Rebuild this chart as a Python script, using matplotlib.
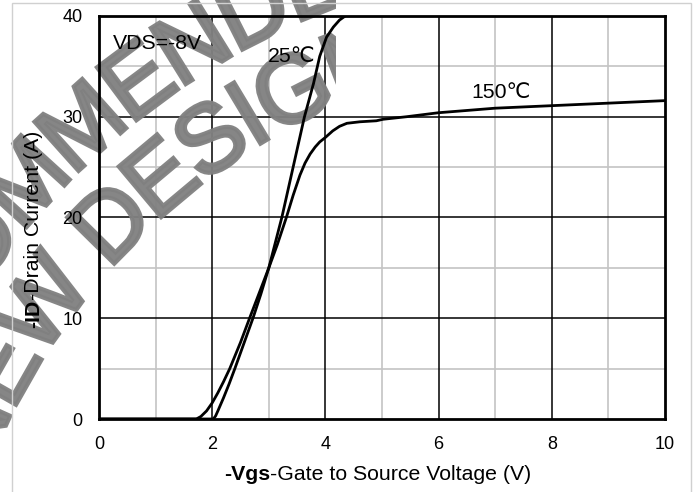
import matplotlib
matplotlib.use("Agg")
import math
import numpy as np
import matplotlib.pyplot as plt
from matplotlib.transforms import IdentityTransform, Affine2D
from matplotlib.patches import Rectangle, PathPatch
from matplotlib.textpath import TextPath
from matplotlib.font_manager import FontProperties

# ---------------- data ----------------
vgs_25 = [0.0, 1.0, 2.02, 2.06, 2.1, 2.2, 2.3, 2.4, 2.56, 2.72, 2.86, 3.0, 3.23, 3.43,
          3.63, 3.79, 3.9, 4.02, 4.14, 4.25, 4.35]
id_25 = [0.0, 0.0, 0.0, 0.3, 0.8, 2.1, 3.5, 5.0, 7.5, 10.0, 12.4, 15.0, 20.0, 25.0,
         30.0, 33.3, 36.0, 37.9, 38.9, 39.6, 40.0]

vgs_150 = [0.0, 1.0, 1.72, 1.8, 1.9, 2.0, 2.1, 2.2, 2.31, 2.5, 2.66, 2.83, 3.0, 3.15,
           3.31, 3.43, 3.55, 3.64, 3.73, 3.82, 3.9, 4.0, 4.13, 4.25, 4.38, 4.61, 4.9,
           5.02, 5.43, 6.0, 6.38, 7.0, 8.0, 9.0, 10.0]
id_150 = [0.0, 0.0, 0.0, 0.25, 0.8, 1.6, 2.6, 3.7, 5.0, 7.6, 10.0, 12.5, 15.0, 17.3,
          20.0, 22.2, 24.2, 25.4, 26.3, 27.0, 27.5, 27.95, 28.6, 29.05, 29.35, 29.5, 29.6,
          29.75, 30.0, 30.4, 30.57, 30.85, 31.1, 31.35, 31.6]

x_ticks = [0, 2, 4, 6, 8, 10]
y_ticks = [0, 10, 20, 30, 40]
x_minor = [1, 3, 5, 7, 9]
y_minor = [5, 15, 25, 35]

xlabel_bold = "-Vgs"
xlabel_rest = "-Gate to Source Voltage (V)"
ylabel_bold = "-ID"
ylabel_rest = "-Drain Current (A)"
cond_text = "VDS=-8V"
label_25 = "25\u2103"
label_150 = "150\u2103"
watermark_1 = "NOT RECOMMENDED"
watermark_2 = "FOR NEW DESIGN"

# ---------------- figure ----------------
W, H = 698, 492
plt.rcParams['font.family'] = ['Liberation Sans', 'DejaVu Sans']
fig = plt.figure(figsize=(W / 100, H / 100), dpi=100)
fig.patch.set_facecolor('white')

# outer light frame
fig.add_artist(Rectangle((12 / W, -0.02), 679 / W, 1.02 - 3 / H,
                         transform=fig.transFigure, fill=False,
                         edgecolor='#d0d0d0', lw=1.0, clip_on=False))

ax = fig.add_axes([99 / W, 1 - 419 / H, 566 / W, 403 / H])
ax.set_xlim(0, 10)
ax.set_ylim(0, 40)
ax.set_xticks(x_ticks)
ax.set_yticks(y_ticks)
ax.tick_params(length=0, labelsize=13)
ax.tick_params(axis='x', pad=12.5)
ax.tick_params(axis='y', pad=12)

for v_ in x_minor:
    ax.axvline(v_, color='#c4c4c4', lw=1.2, zorder=0.6)
for v_ in y_minor:
    ax.axhline(v_, color='#c4c4c4', lw=1.2, zorder=0.6)
for v_ in x_ticks[1:-1]:
    ax.axvline(v_, color='black', lw=1.1, zorder=0.8)
for v_ in y_ticks[1:-1]:
    ax.axhline(v_, color='black', lw=1.1, zorder=0.8)

for s in ax.spines.values():
    s.set_linewidth(2.0)
    s.set_zorder(5)

ax.plot(vgs_25, id_25, color='black', lw=2.0, zorder=3, solid_capstyle='round',
        solid_joinstyle='round')
ax.plot(vgs_150, id_150, color='black', lw=2.0, zorder=3, solid_capstyle='round',
        solid_joinstyle='round')

ax.text(113, H - 43.5, cond_text, transform=IdentityTransform(), fontsize=15.3,
        ha='left', va='center', zorder=4)
ax.text(292, H - 56, label_25, transform=IdentityTransform(), fontsize=15.3,
        ha='center', va='center', zorder=4)
ax.text(501, H - 92, label_150, transform=IdentityTransform(), fontsize=15.3,
        ha='center', va='center', zorder=4)

# watermark: text set along gentle circular arcs, clipped on the right
fp = FontProperties(family='Liberation Sans', weight='normal')
adv = {'N': .722, 'O': .778, 'T': .611, ' ': .278, 'R': .722, 'E': .667, 'C': .722,
       'M': .833, 'D': .722, 'F': .611, 'W': .944, 'S': .667, 'I': .278, 'G': .778}
cx, cy = 607.0, H - 712.0
em = 96.0
clip_rect = Rectangle((-50, -50), 50 + 336, H + 100, transform=IdentityTransform())

def arc_text(s, s_ref, theta_ref_deg, r_c):
    cum = 0.0
    r_base = r_c - 0.358 * em
    for ch in s:
        a = adv[ch]
        if ch != ' ':
            th = math.radians(theta_ref_deg) - (cum + a / 2 - s_ref) * em / r_c
            tp = TextPath((0, 0), ch, size=1, prop=fp)
            tr = (Affine2D().translate(-a / 2, 0).scale(em).rotate(th - math.pi / 2)
                  .translate(cx + r_base * math.cos(th), cy + r_base * math.sin(th)))
            p = PathPatch(tp, transform=tr + IdentityTransform(),
                          facecolor='#808080', edgecolor='#808080', lw=3.0,
                          alpha=0.95, zorder=1)
            ax.add_artist(p)
            p.set_clip_path(clip_rect)
        cum += a

arc_text(watermark_1, 4.889, 143.3, 790.0)
arc_text(watermark_2, 5.361, 135.4, 700.0)

# axis labels made of a bold and a regular part
fig.canvas.draw()
r = fig.canvas.get_renderer()

def two_part(cx_, cy_, bold, rest, rotation):
    t1 = fig.text(0, 0, bold, fontsize=15.3, fontweight='bold',
                  transform=IdentityTransform(), rotation=rotation,
                  rotation_mode='anchor', ha='left', va='baseline', zorder=6)
    t2 = fig.text(0, 0, rest, fontsize=15.3, transform=IdentityTransform(),
                  rotation=rotation, rotation_mode='anchor', ha='left',
                  va='baseline', zorder=6)
    e1 = t1.get_window_extent(r)
    e2 = t2.get_window_extent(r)
    if rotation == 0:
        w1, w2 = e1.width, e2.width
        x0 = cx_ - (w1 + w2) / 2
        t1.set_position((x0, cy_))
        t2.set_position((x0 + w1, cy_))
    else:
        w1, w2 = e1.height, e2.height
        y0 = cy_ - (w1 + w2) / 2
        t1.set_position((cx_, y0))
        t2.set_position((cx_, y0 + w1))

two_part(378, H - 480, xlabel_bold, xlabel_rest, 0)
two_part(39, H - 229.5, ylabel_bold, ylabel_rest, 90)

fig.savefig("out.png", dpi=100, facecolor='white')
